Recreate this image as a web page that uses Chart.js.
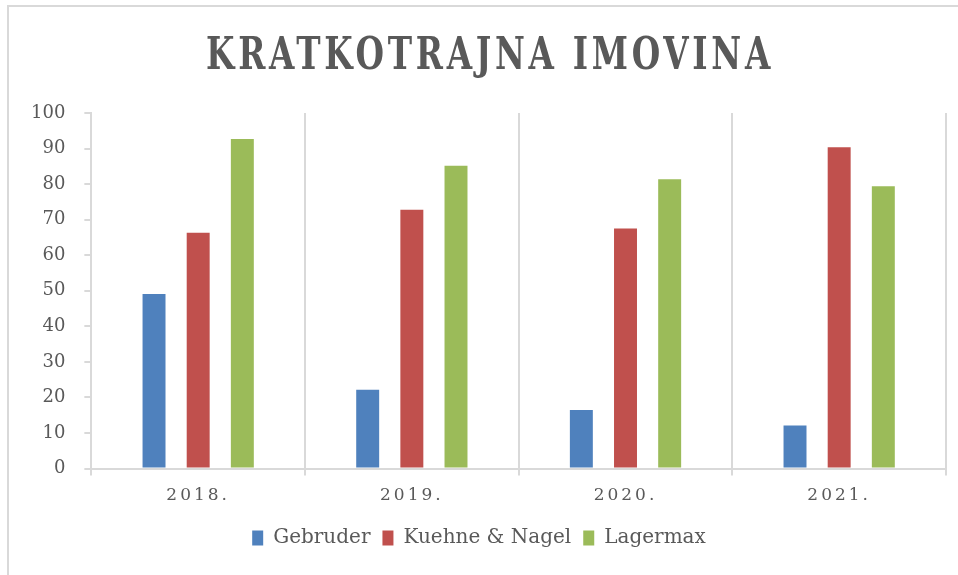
<!DOCTYPE html>
<html>
<head>
<meta charset="utf-8">
<script src="https://cdn.jsdelivr.net/npm/chart.js@4.4.0/dist/chart.umd.min.js"></script>
<style>
  html, body { margin: 0; padding: 0; background: #fff; }
  #wrap { position: absolute; left: 0; top: 0; width: 958px; height: 575px; }
  #frame { position: absolute; left: 7px; top: 5px; width: 951px; height: 570px;
           border-top: 2px solid #d9d9d9; border-left: 2px solid #d9d9d9; box-sizing: border-box; }
</style>
</head>
<body>
<div id="wrap">
  <div id="frame"></div>
  <canvas id="myChart" width="958" height="575"></canvas>
</div>
<script>
const chartTitle = "KRATKOTRAJNA IMOVINA";
const years = ["2018.", "2019.", "2020.", "2021."];
const gebruder = [49.1, 22.2, 16.5, 12.1];
const kuehneNagel = [66.3, 72.8, 67.5, 90.4];
const lagermax = [92.7, 85.2, 81.4, 79.4];
const yTicks = [0, 10, 20, 30, 40, 50, 60, 70, 80, 90, 100];

const serif = "'DejaVu Serif', 'Liberation Serif', serif";

// title drawn by hand so it can be letter-spaced and narrowed
const spacedText = {
  id: "spacedText",
  afterDatasetsDraw(chart) {
    const ctx = chart.ctx;
    ctx.save();
    ctx.font = "bold 44px " + serif;
    ctx.letterSpacing = "5px";
    const w = ctx.measureText(chartTitle).width;
    const sx = 568 / w;
    ctx.translate(490, 69);
    ctx.scale(sx, 1);
    ctx.fillStyle = "#595959";
    ctx.textAlign = "center";
    ctx.textBaseline = "alphabetic";
    ctx.fillText(chartTitle, 0, 0);
    ctx.restore();
    // x tick labels (z: 1) are drawn after this, with spacing
    ctx.letterSpacing = "3px";
  },
  afterDraw(chart) {
    chart.ctx.letterSpacing = "0px";
  }
};

window.onload = function () {
  var ctx = document.getElementById("myChart").getContext("2d");

  var myChart = new Chart(ctx, {
    type: "bar",
    data: {
      labels: years,
      datasets: [
        { label: "Gebruder", data: gebruder, backgroundColor: "#4f81bd" },
        { label: "Kuehne & Nagel", data: kuehneNagel, backgroundColor: "#c0504d" },
        { label: "Lagermax", data: lagermax, backgroundColor: "#9bbb59" },
      ],
    },
    options: {
      responsive: false,
      animation: false,
      categoryPercentage: 0.62,
      barPercentage: 0.52,
      layout: { padding: { top: 113, right: 12, bottom: 17, left: 12 } },
      plugins: {
        title: { display: false },
        tooltip: { enabled: false },
        legend: {
          position: "bottom",
          labels: {
            font: { family: serif, size: 20 },
            color: "#595959",
            boxWidth: 11,
            boxHeight: 15,
            padding: 12,
          },
        },
      },
      scales: {
        x: {
          grid: { color: "#d9d9d9", lineWidth: 2, offset: true, tickLength: 7 },
          border: { color: "#d9d9d9", width: 2 },
          ticks: { font: { family: serif, size: 17 }, color: "#595959", padding: 10, z: 1 },
        },
        y: {
          min: 0,
          max: 100,
          afterBuildTicks(scale) {
            scale.ticks = yTicks.map(v => ({ value: v }));
          },
          grid: { drawOnChartArea: false, color: "#d9d9d9", lineWidth: 2, tickLength: 7 },
          border: { color: "#d9d9d9", width: 2 },
          ticks: { font: { family: serif, size: 18 }, color: "#595959", padding: 19 },
        },
      },
    },
    plugins: [spacedText],
  });
};
</script>
</body>
</html>
